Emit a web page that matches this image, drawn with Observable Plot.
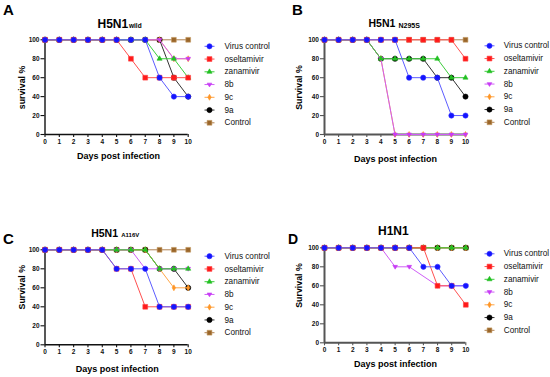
<!DOCTYPE html>
<html>
<head>
<meta charset="utf-8">
<script src="https://cdn.jsdelivr.net/npm/d3@7"></script>
<script src="https://cdn.jsdelivr.net/npm/@observablehq/plot@0.6"></script>
<style>
  body { margin: 0; background: #fff; }
  #root { position: relative; width: 550px; height: 377px; overflow: hidden; background: #fff; }
  .panel { position: absolute; }
  .panel svg { overflow: visible; }
</style>
</head>
<body>
<div id="root"></div>
<script>
// ---------- data ----------
const days = [0, 1, 2, 3, 4, 5, 6, 7, 8, 9, 10];
const yTicks = [0, 20, 40, 60, 80, 100];
const seriesNames = ["Virus control", "oseltamivir", "zanamivir", "8b", "9c", "9a", "Control"];

// Panel A: H5N1 wild
const aVirus = [100, 100, 100, 100, 100, 100, 100, 100, 60, 40, 40];
const aOsel  = [100, 100, 100, 100, 100, 100, 80, 60, 60, 60, 60];
const aZana  = [100, 100, 100, 100, 100, 100, 100, 100, 80, 80, 60];
const a8b    = [100, 100, 100, 100, 100, 100, 100, 100, 100, 80, 80];
const a9c    = [100, 100, 100, 100, 100, 100, 100, 100, 100, 80, 80];
const a9a    = [100, 100, 100, 100, 100, 100, 100, 100, 100, 60, 40];
const aCtrl  = [100, 100, 100, 100, 100, 100, 100, 100, 100, 100, 100];

// Panel B: H5N1 N295S
const bVirus = [100, 100, 100, 100, 100, 100, 60, 60, 60, 20, 20];
const bOsel  = [100, 100, 100, 100, 100, 100, 100, 100, 100, 100, 80];
const bZana  = [100, 100, 100, 100, 80, 80, 80, 80, 80, 60, 60];
const b8b    = [100, 100, 100, 100, 80, 0, 0, 0, 0, 0, 0];
const b9c    = [100, 100, 100, 100, 80, 0, 0, 0, 0, 0, 0];
const b9a    = [100, 100, 100, 100, 80, 80, 80, 80, 60, 60, 40];
const bCtrl  = [100, 100, 100, 100, 100, 100, 100, 100, 100, 100, 100];

// Panel C: H5N1 A116V
const cVirus = [100, 100, 100, 100, 100, 80, 80, 80, 40, 40, 40];
const cOsel  = [100, 100, 100, 100, 100, 80, 80, 40, 40, 40, 40];
const cZana  = [100, 100, 100, 100, 100, 100, 100, 100, 80, 80, 80];
const c8b    = [100, 100, 100, 100, 100, 100, 100, 80, 80, 80, 80];
const c9c    = [100, 100, 100, 100, 100, 100, 100, 100, 80, 60, 60];
const c9a    = [100, 100, 100, 100, 100, 100, 100, 100, 80, 80, 60];
const cCtrl  = [100, 100, 100, 100, 100, 100, 100, 100, 100, 100, 100];

// Panel D: H1N1
const dVirus = [100, 100, 100, 100, 100, 100, 100, 80, 80, 60, 60];
const dOsel  = [100, 100, 100, 100, 100, 100, 100, 100, 60, 60, 40];
const dZana  = [100, 100, 100, 100, 100, 100, 100, 100, 100, 100, 100];
const d8b    = [100, 100, 100, 100, 100, 80, 80, null, 60, 60, 60];
const d9c    = [100, 100, 100, 100, 100, 100, 100, 100, 100, 100, 100];
const d9a    = [100, 100, 100, 100, 100, 100, 100, 100, 100, 100, 100];
const dCtrl  = [100, 100, 100, 100, 100, 100, 100, 100, 100, 100, 100];

// ---------- styles ----------
const FONT = "'Liberation Sans', Arial, Helvetica, sans-serif";
const triDown = {
  draw(ctx, size) {
    const r = Math.sqrt(size / Math.PI) * 1.25;
    ctx.moveTo(-r, -r * 0.6);
    ctx.lineTo(r, -r * 0.6);
    ctx.lineTo(0, r * 1.0);
    ctx.closePath();
  }
};
const legendLine = {
  draw(ctx, size) {
    const r = Math.sqrt(size / Math.PI);
    ctx.moveTo(-r, 0);
    ctx.lineTo(r, 0);
  }
};
const seriesStyle = [
  { fill: "#1414ff", stroke: "#3030ff", line: "#5c5cff", symbol: "circle", r: 2.6 },
  { fill: "#ff1a1a", stroke: "#ff4040", line: "#ff5050", symbol: "square", r: 2.7 },
  { fill: "#22c022", stroke: "#22c022", line: "#3ccc3c", symbol: "triangle", r: 1.9 },
  { fill: "#c83cf5", stroke: "#c83cf5", line: "#cf5ef7", symbol: triDown, r: 1.9 },
  { fill: "#ff9626", stroke: "#ff9626", line: "#ffa646", symbol: "diamond", r: 1.8 },
  { fill: "#000000", stroke: "#000000", line: "#333333", symbol: "circle", r: 2.6 },
  { fill: "#9a662a", stroke: "#c49a62", line: "#b08050", symbol: "square", r: 2.7 }
];

// ---------- panels (layout) ----------
const panels = [
  { left: 0, top: 0, h: 190, ml: 44.5, mr: 87.3, mt: 39.3, mb: 56,
    letter: "A", letterPos: [2.5, 10], letterSize: 15,
    title: "H5N1", sub: "wild", titlePos: [97, 23.3], titleSize: 12, subPos: [128.5, 25.5], subSize: 6.5,
    yTitle: "survival %", yTitlePos: [22, 87], xTitlePos: [118, 156],
    legX: [209, 224], legY0: 45.8, axisColor: "#111", axisW: 1.4,
    values: [aVirus, aOsel, aZana, a8b, a9c, a9a, aCtrl] },
  { left: 275, top: 0, h: 190, ml: 49, mr: 85, mt: 39.3, mb: 56,
    letter: "B", letterPos: [16.5, 10], letterSize: 15,
    title: "H5N1", sub: "N295S", titlePos: [93, 23.3], titleSize: 10.5, subPos: [123, 25.3], subSize: 7,
    yTitle: "Survival %", yTitlePos: [24, 87], xTitlePos: [120, 159],
    legX: [214, 228.3], legY0: 45.3, axisColor: "#555", axisW: 2,
    values: [bVirus, bOsel, bZana, b8b, b9c, b9a, bCtrl] },
  { left: 0, top: 190, h: 187, ml: 44.5, mr: 87.3, mt: 59.3, mb: 32.7,
    letter: "C", letterPos: [2.5, 48.3], letterSize: 15,
    title: "H5N1", sub: "A116V", titlePos: [90.7, 42.7], titleSize: 10.5, subPos: [120.7, 45], subSize: 6,
    yTitle: "Survival %", yTitlePos: [22, 96.7], xTitlePos: [116.7, 179],
    legX: [209, 224], legY0: 65.7, axisColor: "#111", axisW: 1.4,
    values: [cVirus, cOsel, cZana, c8b, c9c, c9a, cCtrl] },
  { left: 275, top: 190, h: 187, ml: 49, mr: 84.7, mt: 57.3, mb: 34.7,
    letter: "D", letterPos: [12.5, 49.5], letterSize: 14,
    title: "H1N1", sub: "", titlePos: [102.5, 41], titleSize: 12, subPos: [0, 0], subSize: 6,
    yTitle: "Survival %", yTitlePos: [24, 95], xTitlePos: [120, 173.3],
    legX: [214, 228.3], legY0: 63.3, axisColor: "#555", axisW: 2,
    values: [dVirus, dOsel, dZana, d8b, d9c, d9a, dCtrl] }
];

function at(p, x, y) {
  return { frameAnchor: "top-left", dx: x - p.ml, dy: y - p.mt };
}

function buildPanel(p) {
  const marks = [];
  marks.push(Plot.ruleY([0], { x1: 0, x2: 10, stroke: p.axisColor, strokeWidth: p.axisW }));
  marks.push(Plot.ruleX([0], { y1: 0, y2: 100, stroke: p.axisColor, strokeWidth: p.axisW }));
  marks.push(Plot.axisY({ ticks: yTicks, tickSize: 4, tickPadding: 1.5, fontSize: 6.5, fontWeight: "bold", label: null, stroke: p.axisColor, strokeWidth: 1.1, fill: "#111" }));
  marks.push(Plot.axisX({ ticks: days, tickSize: 3, tickPadding: 2, fontSize: 6.5, fontWeight: "bold", label: null, stroke: p.axisColor, strokeWidth: 1.1, fill: "#111" }));

  // series, drawn last-to-first so "Virus control" is on top
  for (let i = seriesNames.length - 1; i >= 0; i--) {
    const s = seriesStyle[i];
    const rows = days.map((d, j) => ({ day: d, value: p.values[i][j] })).filter(r => r.value != null);
    marks.push(Plot.line(rows, { x: "day", y: "value", stroke: s.line, strokeWidth: 1 }));
    marks.push(Plot.dot(rows, { x: "day", y: "value", symbol: s.symbol, r: s.r, fill: s.fill, stroke: s.stroke, strokeWidth: 0.6 }));
  }

  // legend
  seriesNames.forEach((name, i) => {
    const s = seriesStyle[i];
    const y = p.legY0 + 12.75 * i;
    marks.push(Plot.dot([0], { ...at(p, p.legX[0], y), symbol: legendLine, r: 5, stroke: s.line, fill: "none", strokeWidth: 1 }));
    marks.push(Plot.dot([0], { ...at(p, p.legX[0], y), symbol: s.symbol, r: s.r, fill: s.fill, stroke: s.stroke, strokeWidth: 0.6 }));
    marks.push(Plot.text([name], { ...at(p, p.legX[1], y), text: d => d, textAnchor: "start", lineAnchor: "middle", fontSize: 8.2, fill: "#111" }));
  });

  // titles and labels
  marks.push(Plot.text([p.letter], { ...at(p, p.letterPos[0], p.letterPos[1]), text: d => d, textAnchor: "start", lineAnchor: "middle", fontSize: p.letterSize, fontWeight: "bold", fill: "#000" }));
  marks.push(Plot.text([p.title], { ...at(p, p.titlePos[0], p.titlePos[1]), text: d => d, textAnchor: "start", lineAnchor: "middle", fontSize: p.titleSize, fontWeight: "bold", fill: "#000" }));
  if (p.sub) {
    marks.push(Plot.text([p.sub], { ...at(p, p.subPos[0], p.subPos[1]), text: d => d, textAnchor: "start", lineAnchor: "middle", fontSize: p.subSize, fontWeight: "bold", fill: "#000" }));
  }
  marks.push(Plot.text([p.yTitle], { ...at(p, p.yTitlePos[0], p.yTitlePos[1]), text: d => d, rotate: -90, textAnchor: "middle", lineAnchor: "middle", fontSize: 8.8, fontWeight: "bold", fill: "#000" }));
  marks.push(Plot.text(["Days post infection"], { ...at(p, p.xTitlePos[0], p.xTitlePos[1]), text: d => d, textAnchor: "middle", lineAnchor: "middle", fontSize: 9, fontWeight: "bold", fill: "#000" }));

  return Plot.plot({
    width: 275,
    height: p.h,
    marginLeft: p.ml,
    marginRight: p.mr,
    marginTop: p.mt,
    marginBottom: p.mb,
    x: { domain: [0, 10] },
    y: { domain: [0, 100] },
    style: { fontFamily: FONT, background: "transparent", overflow: "visible", color: "#111" },
    marks
  });
}

const root = document.getElementById("root");
panels.forEach(p => {
  const div = document.createElement("div");
  div.className = "panel";
  div.style.left = p.left + "px";
  div.style.top = p.top + "px";
  div.appendChild(buildPanel(p));
  root.appendChild(div);
});
</script>
</body>
</html>
